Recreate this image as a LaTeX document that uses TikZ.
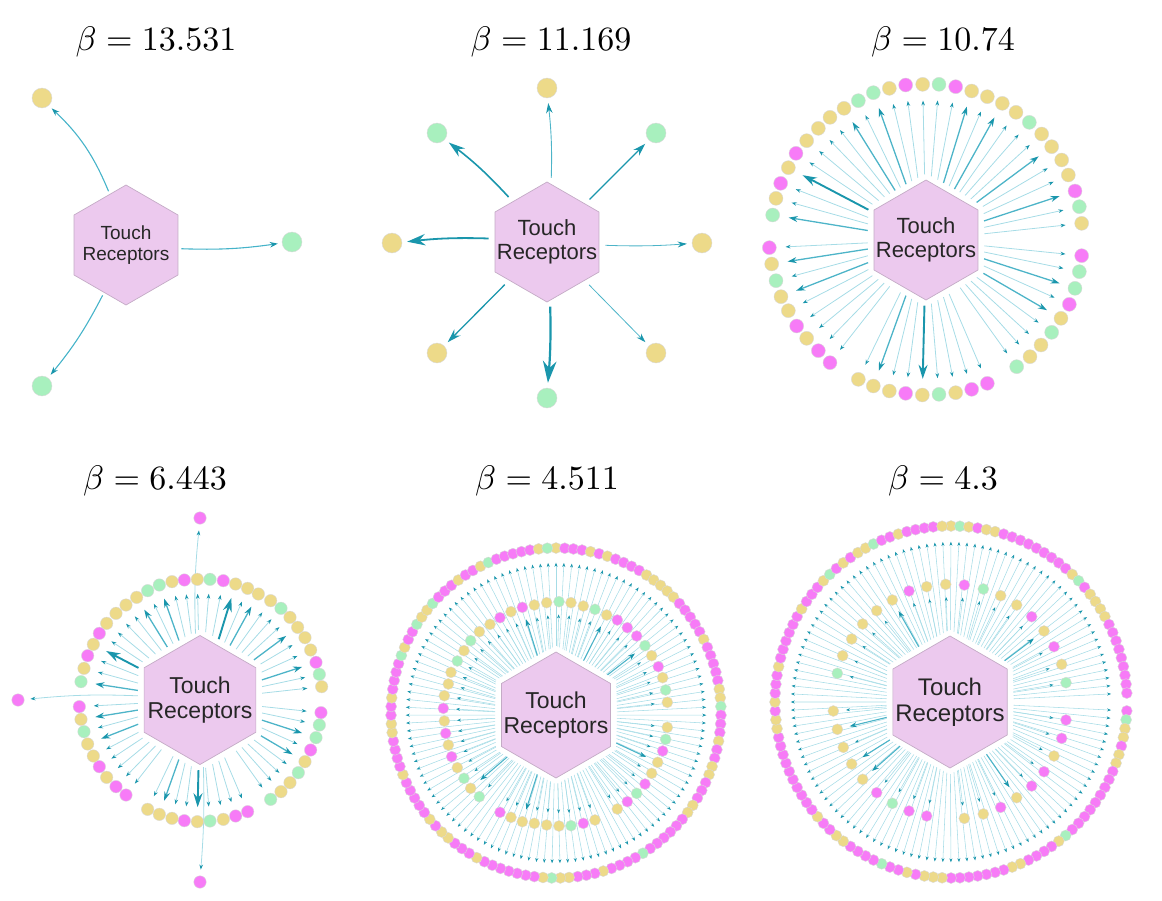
\documentclass[tikz,border=0pt]{standalone}
\usepackage{fontspec}
\newfontfamily\hexfont{Liberation Sans}
\usetikzlibrary{shapes.geometric,arrows.meta}
\pgfdeclarelayer{edgelayer}
\pgfsetlayers{edgelayer,main}
\definecolor{cY}{HTML}{EDDA89}
\definecolor{cG}{HTML}{A8F0BE}
\definecolor{cM}{HTML}{F77BF7}
\definecolor{hexfill}{HTML}{ECC9EE}
\definecolor{hexline}{HTML}{C4ABC6}
\definecolor{eD}{HTML}{1A96AC}
\definecolor{eM}{HTML}{4DB4C8}
\definecolor{eL}{HTML}{A6DCE6}
\definecolor{eP}{HTML}{45B3C9}
\tikzset{
  hexa/.style={regular polygon, regular polygon sides=6, shape border rotate=30, fill=hexfill, draw=hexline, line width=0.7pt, inner sep=0pt},
  hextxt/.style={inner sep=0pt, align=center, text=black!85},
  dot/.style={circle, inner sep=0pt, draw=black!15, line width=0.4pt},
  dotA/.style={dot, minimum size=20pt},
  dotB/.style={dot, minimum size=14pt},
  dotC/.style={dot, minimum size=12.5pt},
  dotD/.style={dot, minimum size=11pt},
  ttl/.style={anchor=base, scale=3.4, inner sep=0pt},
  e0/.style={draw=eL, line width=0.8pt, -{Stealth[length=5pt,width=3.6pt,color=eD]}},
  e1/.style={draw=eM, line width=1.3pt, -{Stealth[length=9pt,width=6pt,color=eD]}},
  e2/.style={draw=eD, line width=1.9pt, -{Stealth[length=14pt,width=9pt,color=eD]}},
  f0/.style={draw=eL, line width=0.55pt, -{Stealth[length=4pt,width=3pt,color=eD]}},
  f1/.style={draw=eM, line width=1.1pt, -{Stealth[length=7pt,width=5pt,color=eD]}},
  p1e/.style={draw=eP, line width=1.1pt, -{Stealth[length=8pt,width=5.5pt,color=eD]}, shorten >=4pt, shorten <=3pt},
  p2e/.style={draw=eD, -{Stealth[length=2pt 9,width=1.5pt 5.5,color=eD]}, shorten >=5pt, shorten <=6pt},
}
\def\ringC{68/435/G/1, 78/385/Y/0, 92/340/M/0, 115/293/Y/2, 138/250/M/0, 170/212/Y/0, 205/175/Y/0, 240/142/Y/0, 282/115/Y/1, 325/92/G/0, 370/68/G/1, 418/55/Y/0, 467/45/M/0, 518/43/Y/0, 567/43/G/0, 617/50/M/0, 665/63/Y/1, 712/80/Y/0, 757/100/Y/1, 798/127/Y/0, 838/157/G/0, 875/192/Y/0, 905/230/Y/1, 935/270/Y/0, 955/315/Y/0, 975/363/M/1, 988/410/G/0, 995/460/Y/0, 995/557/M/0, 988/605/G/0, 975/655/G/1, 958/703/M/0, 933/745/Y/1, 905/787/G/0, 873/825/Y/0, 840/860/Y/0, 800/890/G/0, 712/940/M/0, 665/958/M/0, 617/968/Y/0, 567/973/G/0, 517/975/Y/2, 467/970/M/0, 418/963/Y/0, 370/948/Y/1, 325/928/Y/0, 240/878/M/0, 205/842/M/0, 170/805/Y/0, 140/768/M/0, 115/722/Y/0, 93/680/Y/1, 78/632/G/0, 65/582/Y/1, 58/533/M/0}
\def\ringD{243/545/G/1, 252/505/Y/0, 263/467/M/0, 280/433/Y/2, 298/400/M/0, 320/370/Y/0, 348/340/Y/0, 378/315/Y/0, 410/292/Y/1, 443/272/G/0, 478/255/G/1, 516/245/Y/0, 553/240/M/0, 592/238/Y/0, 630/238/G/0, 670/242/M/0, 707/252/Y/2, 743/265/Y/0, 775/282/Y/1, 812/302/Y/0, 843/325/G/0, 870/352/Y/0, 893/382/Y/1, 915/413/Y/0, 932/450/Y/0, 948/487/M/1, 958/523/G/0, 965/560/Y/0, 963/638/M/0, 958/675/G/0, 948/713/G/1, 932/750/M/0, 915/785/Y/1, 895/818/G/0, 870/848/Y/0, 843/875/Y/0, 812/898/G/0, 743/935/M/0, 707/948/M/0, 670/958/Y/0, 630/963/G/0, 592/965/Y/2, 553/962/M/0, 516/955/Y/0, 478/943/Y/1, 443/928/Y/0, 378/885/M/0, 348/860/M/0, 320/832/Y/0, 298/800/M/0, 280/768/Y/0, 263/732/Y/1, 252/695/G/0, 243/658/Y/1, 238/620/M/0}
\def\outerE{Y,M,M,M,Y,M,Y,M,M,M, M,Y,Y,Y,Y,Y,M,M,M,M, M,Y,M,M,M,M,M,Y,Y,G, M,M,M,Y,M,M,Y,Y,M,M, M,Y,Y,M,M,M,M,M,M,G, M,M,M,M,Y,M,M,M,Y,Y, G,Y,M,M,M,M,M,M,M,Y, M,M,M,Y,Y,M,Y,M,M,M, M,M,Y,M,M,M,M,Y,Y,M, M,Y,M,M,M,M,G,Y,M,M, G,Y,Y,G,M,M,M,Y,M,M, Y,G,M,M,M,M,M,Y,G}
\def\innerE{427/232/M/1, 463/225/Y/0, 500/218/Y/0, 537/215/G/0, 573/218/Y/0, 610/228/Y/0, 645/238/G/0, 680/255/Y/1, 712/270/M/0, 742/293/M/0, 770/318/M/0, 795/347/G/1, 815/377/Y/0, 835/410/M/0, 848/443/Y/0, 857/480/G/0, 862/517/Y/0, 862/592/Y/0, 857/628/G/0, 848/663/M/0, 833/697/Y/1, 815/730/Y/0, 795/762/M/0, 770/790/G/0, 742/815/M/0, 712/837/Y/0, 645/870/Y/0, 610/880/M/0, 573/887/G/0, 537/888/Y/0, 500/885/Y/0, 463/880/Y/0, 427/875/Y/1, 393/862/Y/0, 360/847/M/0, 298/800/G/0, 272/775/Y/1, 252/745/G/0, 232/713/Y/0, 215/680/M/0, 205/645/Y/0, 197/610/M/0, 193/573/Y/0, 190/535/M/0, 193/497/Y/0, 205/462/Y/0, 213/427/Y/0, 232/393/G/0, 252/362/Y/0, 272/332/G/0, 298/305/Y/0, 330/283/Y/0, 360/263/M/0, 393/245/Y/0}
\def\outerF{Y,G,Y,M,Y,Y,M,M,M,M, M,M,M,M,M,Y,G,M,Y,Y, Y,Y,M,M,M,M,M,M,M,M, M,Y,M,G,Y,Y,M,Y,Y,M, M,M,M,M,M,M,M,M,G,Y, M,M,M,M,Y,Y,M,M,M,M, M,M,M,Y,Y,Y,M,Y,M,M, G,M,M,M,M,Y,Y,M,M,Y, M,M,M,M,M,M,M,M,M,M, Y,Y,M,Y,M,M,M,Y,M,M, M,M,M,M,Y,M,M,M,Y,G, M,Y,M,Y,Y,G,M,M,Y,M, M,M,M,Y}
\def\innerF{447/243/M/0, 500/230/Y/0, 557/223/Y/0, 613/225/M/0, 670/237/G/0, 722/257/Y/0, 770/285/Y/0, 815/320/M/0, 852/363/Y/1, 882/410/M/0, 905/463/Y/0, 918/518/G/0, 918/630/M/0, 905/685/M/0, 882/738/Y/0, 852/785/M/0, 815/828/M/0, 770/863/Y/1, 722/892/M/0, 670/912/Y/0, 613/925/Y/0, 500/918/M/0, 447/903/M/0, 397/880/G/0, 350/848/M/0, 308/808/Y/1, 275/762/Y/1, 250/712/Y/0, 232/658/Y/1, 220/603/Y/0, 232/490/G/0, 248/437/Y/0, 275/387/Y/0, 308/342/Y/0, 350/302/Y/0, 397/270/Y/1}
\begin{document}
\begin{tikzpicture}[x=1pt,y=-1pt]
\useasboundingbox (0,0) rectangle (1162,900);

% ---------- titles
\node[ttl] (t1) at (156,50) {$\beta = 13.531$};
\node[ttl] (t2) at (551,50) {$\beta = 11.169$};
\node[ttl] (t3) at (943,50) {$\beta = 10.74$};
\node[ttl] (t4) at (155,489) {$\beta = 6.443$};
\node[ttl] (t5) at (547,489) {$\beta = 4.511$};
\node[ttl] (t6) at (943,489) {$\beta = 4.3$};

% ---------- hexagons
\node[hexa, minimum size=120pt] (h1) at (126,245) {};
\node[hextxt, font={\hexfont\fontsize{19}{21}\selectfont}] (h1t) at (h1) {Touch\\Receptors};
\node[hexa, minimum size=120pt] (h2) at (547,242) {};
\node[hextxt, font={\hexfont\fontsize{22}{24}\selectfont}] (h2t) at (h2) {Touch\\Receptors};
\node[hexa, minimum size=120pt] (h3) at (926,240) {};
\node[hextxt, font={\hexfont\fontsize{22}{24}\selectfont}] (h3t) at (h3) {Touch\\Receptors};
\node[hexa, minimum size=129pt] (h4) at (200,700) {};
\node[hextxt, font={\hexfont\fontsize{23}{25}\selectfont}] (h4t) at (h4) {Touch\\Receptors};
\node[hexa, minimum size=126pt] (h5) at (556,715) {};
\node[hextxt, font={\hexfont\fontsize{23}{25}\selectfont}] (h5t) at (h5) {Touch\\Receptors};
\node[hexa, minimum size=132pt] (h6) at (950,702) {};
\node[hextxt, font={\hexfont\fontsize{24}{26}\selectfont}] (h6t) at (h6) {Touch\\Receptors};

% ---------- panel 1
\node[dotA, fill=cY] (a1) at (42,98) {};
\node[dotA, fill=cG] (a2) at (292,242) {};
\node[dotA, fill=cG] (a3) at (42,386) {};
\draw[p1e] (h1) to[bend right=12] (a1);
\draw[p1e] (h1) to[bend right=5] (a2);
\draw[p1e] (h1) to[bend left=6] (a3);

% ---------- panel 2
\node[dotA, fill=cY] (b1) at (547,88) {};
\node[dotA, fill=cG] (b2) at (437,133) {};
\node[dotA, fill=cG] (b3) at (656,133) {};
\node[dotA, fill=cY] (b4) at (392,243) {};
\node[dotA, fill=cY] (b5) at (702,243) {};
\node[dotA, fill=cY] (b6) at (437,353) {};
\node[dotA, fill=cG] (b7) at (547,398) {};
\node[dotA, fill=cY] (b8) at (656,353) {};
\draw[p2e, line width=0.9pt, draw=eM] (h2) to[bend right=4] (b1);
\draw[p2e, line width=1.6pt] (h2) to[bend right=5] (b2);
\draw[p2e, line width=1.2pt] (h2) to (b3);
\draw[p2e, line width=1.8pt] (h2) to[bend right=4] (b4);
\draw[p2e, line width=0.8pt, draw=eM] (h2) to[bend right=3] (b5);
\draw[p2e, line width=1.3pt] (h2) to (b6);
\draw[p2e, line width=2.2pt] (h2) to[bend left=3] (b7);
\draw[p2e, line width=0.8pt, draw=eM] (h2) to (b8);

% ---------- ring nodes
\begin{scope}[shift={(750,70)},scale=1/3]
\foreach \px/\py/\c/\w [count=\i] in \ringC {\node[dotB, fill=c\c] (r3-\i) at (\px,\py) {};}
\end{scope}
\begin{scope}[shift={(0,500)},scale=1/3]
\foreach \px/\py/\c/\w [count=\i] in \ringD {\node[dotC, fill=c\c] (r4-\i) at (\px,\py) {};}
\end{scope}
\node[dotC, fill=cM] (x4a) at (200,518) {};
\node[dotC, fill=cM] (x4b) at (18,700) {};
\node[dotC, fill=cM] (x4c) at (200,882) {};
\begin{scope}[shift={(556,713)}]
\foreach \c [count=\i] in \outerE {
  \pgfmathsetmacro\ang{-90+(\i-1)*(360/119)}
  \node[dotD, fill=c\c] (o5-\i) at (\ang:165) {};}
\end{scope}
\begin{scope}[shift={(380,530)},scale=1/3]
\foreach \px/\py/\c/\w [count=\i] in \innerE {\node[dotD, fill=c\c] (i5-\i) at (\px,\py) {};}
\end{scope}
\begin{scope}[shift={(951,702)}]
\foreach \c [count=\i] in \outerF {
  \ifnum\i=32\relax\else
  \pgfmathsetmacro\ang{-90+(\i-1)*(360/124)}
  \node[dotD, fill=c\c] (o6-\i) at (\ang:176) {};
  \fi}
\end{scope}
\begin{scope}[shift={(760,510)},scale=1/3]
\foreach \px/\py/\c/\w [count=\i] in \innerF {\node[dotD, fill=c\c] (i6-\i) at (\px,\py) {};}
\end{scope}

% ---------- ring edges (behind)
\begin{pgfonlayer}{edgelayer}
\foreach \px/\py/\c/\w [count=\i] in \ringC {\draw[e\w, shorten <=6pt, shorten >=9pt] (h3) -- (r3-\i);}
\foreach \px/\py/\c/\w [count=\i] in \ringD {\draw[e\w, shorten <=6pt, shorten >=8pt] (h4) -- (r4-\i);}
\draw[e0, shorten <=4pt, shorten >=6pt] (h4) to[bend left=4] (x4a);
\draw[e0, shorten <=6pt, shorten >=6pt] (h4) to[bend right=4] (x4b);
\draw[e0, shorten <=4pt, shorten >=6pt] (h4) to[bend left=3] (x4c);
\foreach \c [count=\i] in \outerE {\draw[f0, shorten <=6pt, shorten >=9pt] (h5) -- (o5-\i);}
\foreach \px/\py/\c/\w [count=\i] in \innerE {\draw[f\w, shorten <=6pt, shorten >=7pt] (h5) -- (i5-\i);}
\foreach \c [count=\i] in \outerF {\ifnum\i=32\relax\else\draw[f0, shorten <=6pt, shorten >=10pt] (h6) -- (o6-\i);\fi}
\foreach \px/\py/\c/\w [count=\i] in \innerF {\draw[f\w, shorten <=6pt, shorten >=7pt] (h6) -- (i6-\i);}
\end{pgfonlayer}
\end{tikzpicture}
\end{document}
